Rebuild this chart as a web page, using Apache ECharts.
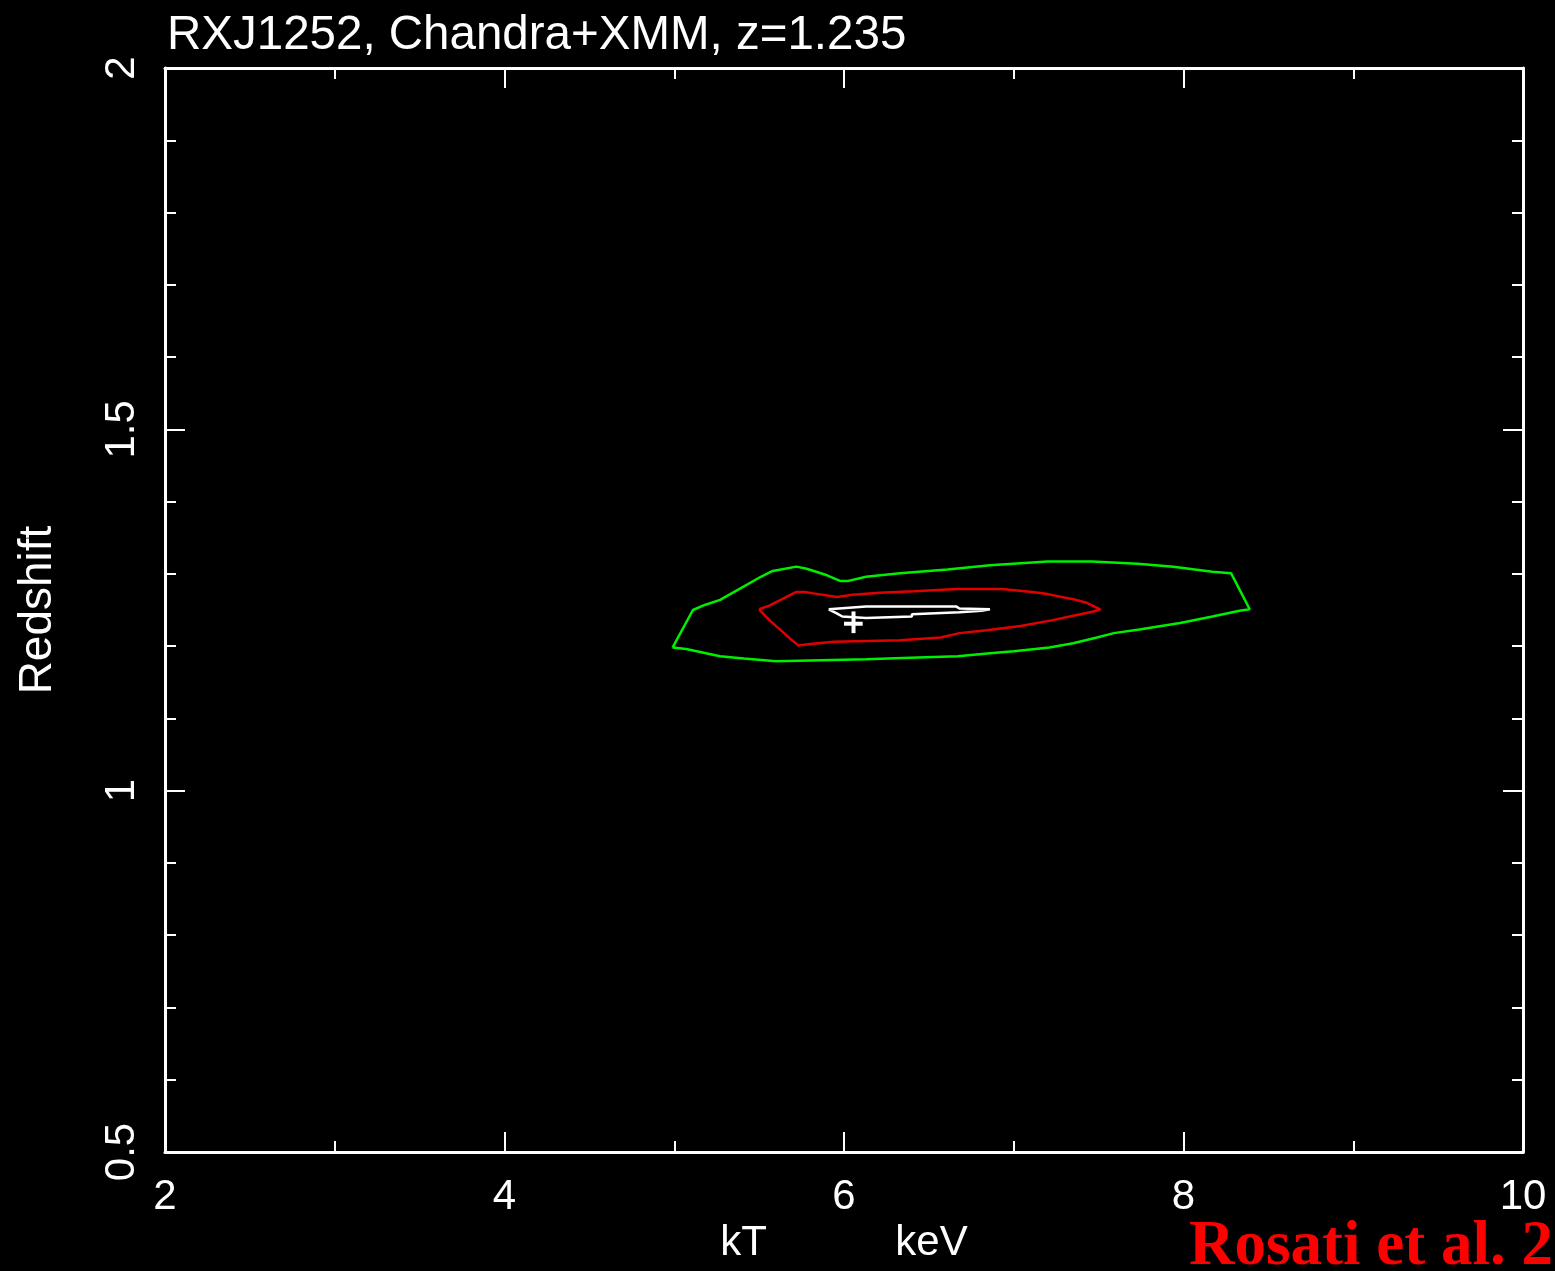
<!DOCTYPE html>
<html>
<head>
<meta charset="utf-8">
<script src="https://cdn.jsdelivr.net/npm/echarts@6/dist/echarts.min.js"></script>
<style>
html,body{margin:0;padding:0;background:#000;}
#chart{width:1555px;height:1271px;}
</style>
</head>
<body>
<div id="chart"></div>
<script>
// ---- data ----
var xTicks = [2, 4, 6, 8, 10];
var yTicks = [0.5, 1, 1.5, 2];

// outer (green) confidence contour
var greenKT = [4.99,5.11,5.18,5.27,5.39,5.51,5.58,5.72,5.78,5.90,5.98,6.02,6.13,6.33,6.61,6.86,7.20,7.46,7.73,7.94,8.17,8.28,8.39,8.33,8.17,7.98,7.74,7.59,7.49,7.35,7.21,7.00,6.86,6.67,6.39,6.13,5.60,5.41,5.27,5.07];
var greenZ  = [1.198,1.250,1.257,1.264,1.280,1.296,1.304,1.310,1.307,1.298,1.290,1.290,1.296,1.301,1.306,1.312,1.317,1.317,1.314,1.310,1.303,1.301,1.251,1.249,1.241,1.232,1.223,1.218,1.212,1.204,1.198,1.193,1.190,1.186,1.184,1.182,1.179,1.183,1.186,1.196];

// middle (red) confidence contour
var redKT = [5.50,5.56,5.72,5.77,5.82,5.96,6.05,6.21,6.41,6.67,6.93,7.11,7.20,7.35,7.43,7.51,7.47,7.35,7.23,7.04,6.84,6.68,6.57,6.33,5.94,5.80,5.73,5.68,5.56];
var redZ  = [1.251,1.256,1.275,1.275,1.273,1.268,1.271,1.274,1.276,1.279,1.279,1.275,1.272,1.265,1.260,1.251,1.248,1.242,1.236,1.228,1.222,1.218,1.212,1.208,1.206,1.203,1.201,1.211,1.236];

// inner (white) confidence contour
var whiteKT = [5.91,6.13,6.66,6.68,6.86,6.81,6.68,6.40,6.40,6.13,5.99,5.96];
var whiteZ  = [1.251,1.255,1.255,1.252,1.251,1.249,1.247,1.244,1.241,1.239,1.241,1.245];

// best fit cross
var bestKT = 6.056, bestZ = 1.231;
var bestKTErr = [6.00, 6.11];
var bestZErr = [1.218, 1.248];

function closed(xs, ys){
  var d = xs.map(function(x,i){ return [x, ys[i]]; });
  d.push([xs[0], ys[0]]);
  return d;
}

var FONT = "'Liberation Sans', Arial, sans-serif";
var chart = echarts.init(document.getElementById('chart'), null, {renderer:'canvas'});

var baseAxisLine = {show:true, lineStyle:{color:'#fff', width:3}};
function xAx(pos, showLabel, name){
  return {
    type:'value', position:pos, min:xTicks[0], max:xTicks[xTicks.length-1], interval:2,
    axisLine:baseAxisLine,
    axisTick:{show:true, inside:true, length:20, lineStyle:{color:'#fff', width:2}},
    minorTick:{show:true, splitNumber:2, length:11, lineStyle:{color:'#fff', width:2}},
    splitLine:{show:false},
    axisLabel:{show:showLabel, color:'#fff', fontSize:42, fontFamily:FONT, margin:24},
    name:name||'', nameLocation:'middle', nameGap:70,
    nameTextStyle:{color:'#fff', fontSize:42, fontFamily:FONT}
  };
}
function yAx(pos, showLabel, name){
  return {
    type:'value', position:pos, min:yTicks[0], max:yTicks[yTicks.length-1], interval:0.5,
    axisLine:baseAxisLine,
    axisTick:{show:true, inside:true, length:20, lineStyle:{color:'#fff', width:2}},
    minorTick:{show:true, splitNumber:5, length:11, lineStyle:{color:'#fff', width:2}},
    splitLine:{show:false},
    axisLabel:{show:showLabel, color:'#fff', fontSize:42, fontFamily:FONT, rotate:90, margin:22},
    name:name||'', nameLocation:'middle', nameGap:104, nameRotate:90,
    nameTextStyle:{color:'#fff', fontSize:46, fontFamily:FONT}
  };
}

var lineS = function(data, color, width){
  return {type:'line', data:data, xAxisIndex:0, yAxisIndex:0, symbol:'none', smooth:false,
          lineStyle:{color:color, width:width}, silent:true, animation:false, z:5};
};

var option = {
  backgroundColor:'#000',
  animation:false,
  title:[
    {text:'RXJ1252, Chandra+XMM, z=1.235', left:162, top:7,
     textStyle:{color:'#fff', fontSize:47.5, fontWeight:'normal', fontFamily:FONT}},
    {text:'Rosati et al. 2', left:1184, top:1211,
     textStyle:{color:'#ff0000', fontSize:63, fontWeight:'bold', fontFamily:"'Liberation Serif', 'Times New Roman', serif"}}
  ],
  grid:{left:165, right:32, top:68, bottom:119, containLabel:false},
  xAxis:[ xAx('bottom', true, 'kT           keV'), xAx('top', false) ],
  yAxis:[ yAx('left', true, 'Redshift'), yAx('right', false) ],
  series:[
    lineS(closed(greenKT, greenZ), '#00ee00', 2.5),
    lineS(closed(redKT, redZ), '#e00000', 2.5),
    lineS(closed(whiteKT, whiteZ), '#ffffff', 2.5),
    lineS([[bestKTErr[0], bestZ],[bestKTErr[1], bestZ]], '#ffffff', 4),
    lineS([[bestKT, bestZErr[0]],[bestKT, bestZErr[1]]], '#ffffff', 4)
  ]
};
chart.setOption(option);
</script>
</body>
</html>
